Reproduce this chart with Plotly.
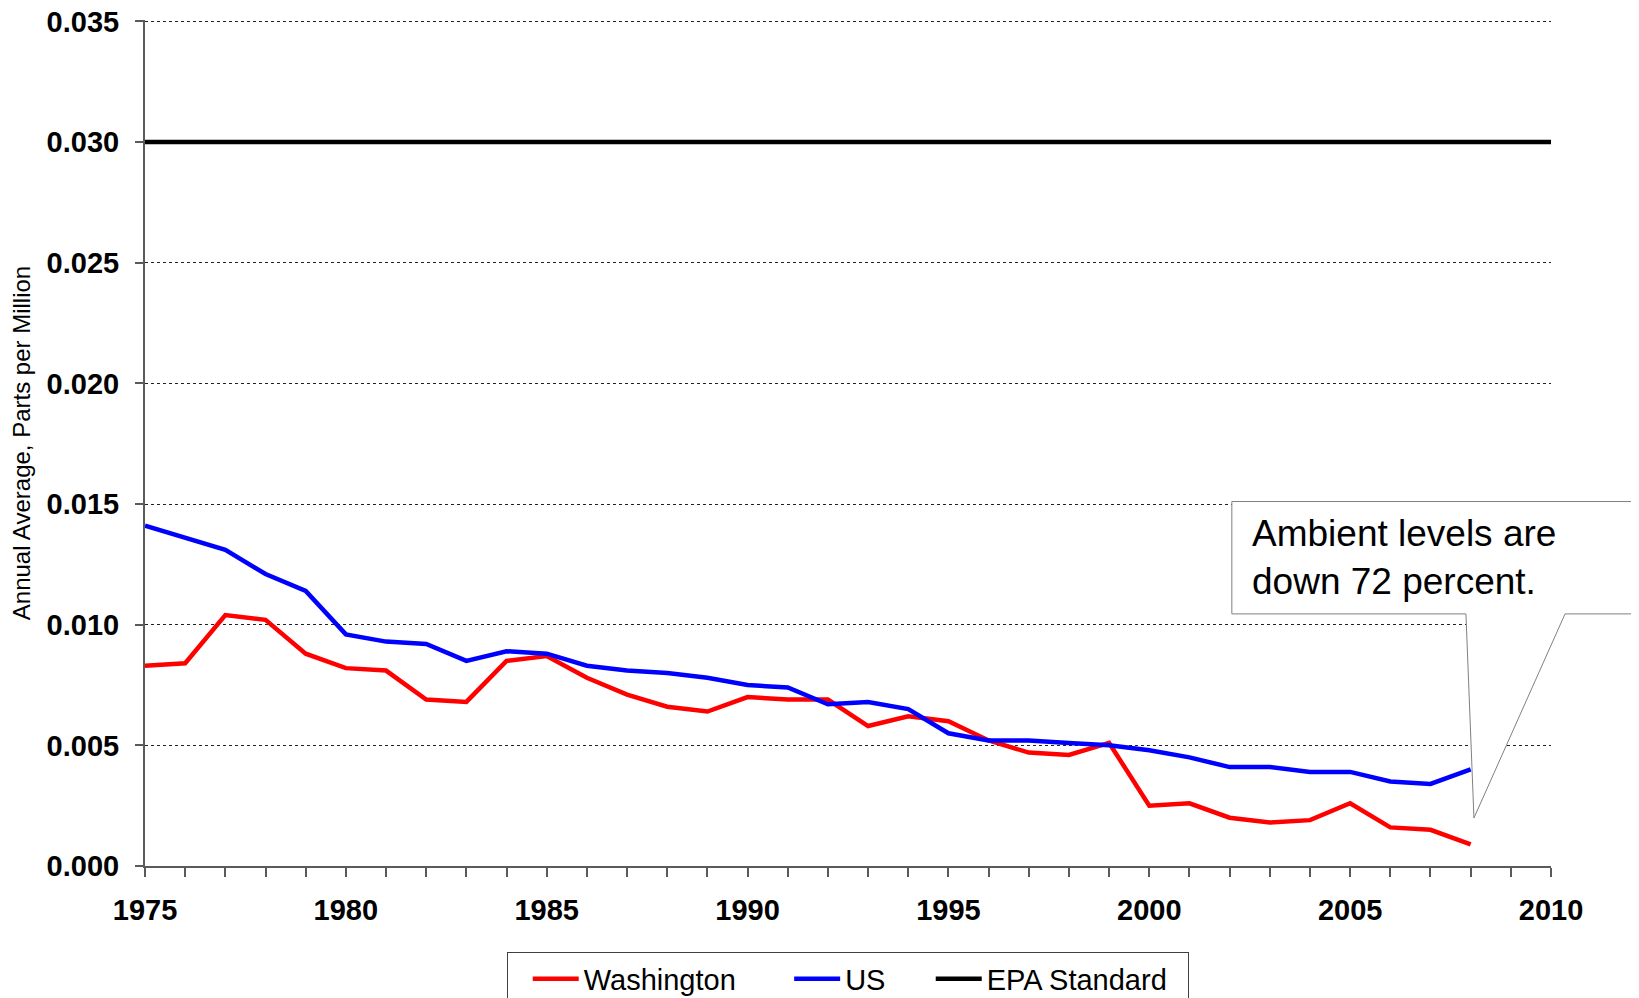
import plotly.graph_objects as go

years = list(range(1975, 2009))
washington = [0.0083, 0.0084, 0.0104, 0.0102, 0.0088, 0.0082, 0.0081, 0.0069, 0.0068, 0.0085,
              0.0087, 0.0078, 0.0071, 0.0066, 0.0064, 0.0070, 0.0069, 0.0069, 0.0058, 0.0062,
              0.0060, 0.0052, 0.0047, 0.0046, 0.0051, 0.0025, 0.0026, 0.0020, 0.0018, 0.0019,
              0.0026, 0.0016, 0.0015, 0.0009]
us = [0.0141, 0.0136, 0.0131, 0.0121, 0.0114, 0.0096, 0.0093, 0.0092, 0.0085, 0.0089,
      0.0088, 0.0083, 0.0081, 0.0080, 0.0078, 0.0075, 0.0074, 0.0067, 0.0068, 0.0065,
      0.0055, 0.0052, 0.0052, 0.0051, 0.0050, 0.0048, 0.0045, 0.0041, 0.0041, 0.0039,
      0.0039, 0.0035, 0.0034, 0.0040]
epa_years = [1975, 2010]
epa_standard = [0.030, 0.030]

series_names = ["Washington", "US", "EPA Standard"]
y_ticks = [0.000, 0.005, 0.010, 0.015, 0.020, 0.025, 0.030, 0.035]
callout_text = "Ambient levels are<br>down 72 percent."

FONT = "Liberation Sans, Arial, sans-serif"
AXIS_GRAY = "#5a5a5a"
NB = "\u00a0"
# trailing non-breaking spaces widen the gaps between legend entries
pad = [NB * 6, NB * 5, NB * 2]

fig = go.Figure()
fig.add_trace(go.Scatter(x=years, y=washington, mode="lines", name=series_names[0] + pad[0],
                         line=dict(color="#ff0000", width=4.5)))
fig.add_trace(go.Scatter(x=years, y=us, mode="lines", name=series_names[1] + pad[1],
                         line=dict(color="#0000ff", width=4.5)))
fig.add_trace(go.Scatter(x=epa_years, y=epa_standard, mode="lines", name=series_names[2] + pad[2],
                         line=dict(color="#000000", width=4.5)))

# speech-bubble callout (paper coordinates)
L, R, T, B = 0.773, 1.0576, 0.4308, 0.298
b1, b2, tipx, tipy = 0.9395, 1.010, 0.9452, 0.0568
path = (f"M{L},{T} L{R},{T} L{R},{B} L{b2},{B} L{tipx},{tipy} "
        f"L{b1},{B} L{L},{B} Z")
fig.add_shape(type="path", path=path, xref="paper", yref="paper", layer="above",
              fillcolor="white", line=dict(color="#808080", width=1))
fig.add_annotation(text=callout_text, xref="paper", yref="paper", x=0.786, y=0.3645,
                   xanchor="left", yanchor="middle", align="left", showarrow=False,
                   font=dict(family=FONT, size=37, color="black"))

fig.update_xaxes(range=[1975, 2010], dtick=5, tick0=1975, showgrid=False, zeroline=False,
                 showline=True, linecolor=AXIS_GRAY, linewidth=2,
                 ticks="outside", ticklen=9, tickcolor=AXIS_GRAY, tickwidth=2,
                 minor=dict(dtick=1, ticks="outside", ticklen=9, tickcolor=AXIS_GRAY, tickwidth=2),
                 ticklabelstandoff=8, ticklabeloverflow="allow",
                 tickfont=dict(family=FONT, size=29, color="black", weight="bold"))
# top of range nudged up a hair so plotly keeps the 0.035 gridline
fig.update_yaxes(range=[0, 0.03506], tickmode="array", tickvals=y_ticks, tickformat=".3f",
                 zeroline=False, showline=True, linecolor=AXIS_GRAY, linewidth=2,
                 ticks="outside", ticklen=8, tickcolor=AXIS_GRAY, tickwidth=2,
                 showgrid=True, gridcolor="#222222", gridwidth=1, griddash="3px,3px",
                 ticklabelstandoff=10, ticklabeloverflow="allow",
                 tickfont=dict(family=FONT, size=29, color="black", weight="bold"),
                 title=dict(text="Annual Average, Parts per Million", standoff=12,
                            font=dict(family=FONT, size=24, color="black")))

# page body has an 8px default margin, so shift the plot area up/left by 8px
fig.update_layout(
    width=1639, height=998,
    margin=dict(l=137, r=96, t=12, b=140, autoexpand=False),
    paper_bgcolor="white", plot_bgcolor="white",
    showlegend=True,
    legend=dict(orientation="h", x=0.5, xanchor="center", y=-0.102, yanchor="top",
                bordercolor="#404040", borderwidth=1, itemwidth=46,
                title=dict(text=NB, side="left"),
                font=dict(family=FONT, size=29, color="black")),
)

fig.write_html("out.html")
